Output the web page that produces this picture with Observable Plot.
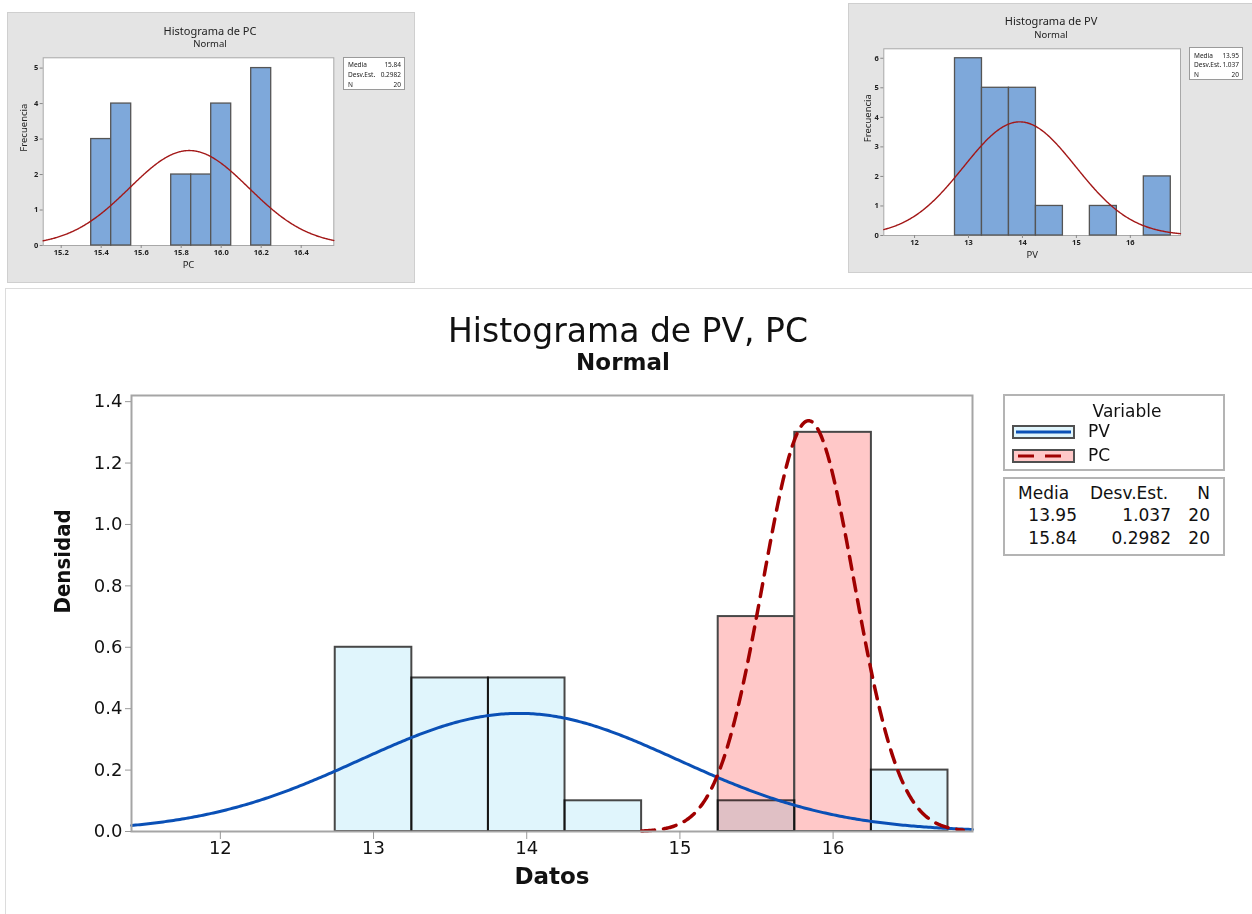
<!DOCTYPE html>
<html>
<head>
<meta charset="utf-8">
<script src="https://cdn.jsdelivr.net/npm/d3@7"></script>
<script src="https://cdn.jsdelivr.net/npm/@observablehq/plot@0.6"></script>
<style>
  html, body { margin:0; padding:0; background:#fff; }
  body { width:1252px; height:914px; position:relative; overflow:hidden; font-family:"DejaVu Sans", sans-serif; color:#111; }
  .abs { position:absolute; }
  .ctr { position:absolute; transform:translate(-50%,-50%); white-space:nowrap; }
  .panel { position:absolute; background:#e4e4e4; border:1px solid #cfcfcf; box-sizing:border-box; }
  .sbox { position:absolute; background:#fff; border:1px solid #9a9a9a; box-sizing:border-box; font-family:"Noto Sans", sans-serif; font-size:6.5px; color:#222; }
  .sbox .r { position:absolute; left:4px; right:3px; display:flex; justify-content:space-between; transform:translateY(-50%); }
  .lg { position:absolute; background:#fff; border:2px solid #b4b4b4; box-sizing:border-box; }
  .sw { position:absolute; width:63px; height:14px; box-sizing:border-box; border:2.5px solid #505050; }
  .sw i { position:absolute; left:2px; right:2px; top:50%; height:0; transform:translateY(-50%); }
  .t17 { font-size:17px; }
  svg { overflow:visible; }
</style>
</head>
<body>
<div id="root"></div>
<script>
// ---------- Data ----------
const variables = ["PV", "PC"];
const means = [13.95, 15.84];
const sds = [1.037, 0.2982];
const ns = [20, 20];

// PV histogram (bin width 0.5)
const pvBinCenters = [13, 13.5, 14, 14.5, 15, 15.5, 16, 16.5];
const pvCounts     = [6, 5, 5, 1, 0, 1, 0, 2];
const pvBinWidth = 0.5;

// PC histogram in combined chart (bin width 0.5)
const pcBinCenters = [15.5, 16];
const pcCounts     = [7, 13];
const pcBinWidth = 0.5;

// PC histogram in its own chart (bin width 0.1)
const pcFineCenters = [15.4, 15.5, 15.8, 15.9, 16.0, 16.2];
const pcFineCounts  = [3, 4, 2, 2, 4, 5];
const pcFineWidth = 0.1;

const mainXTicks = [12, 13, 14, 15, 16];
const mainYTicks = [0, 0.2, 0.4, 0.6, 0.8, 1.0, 1.2, 1.4];
const pcXTicks = [15.2, 15.4, 15.6, 15.8, 16.0, 16.2, 16.4];
const pcYTicks = [0, 1, 2, 3, 4, 5];
const pvXTicks = [12, 13, 14, 15, 16];
const pvYTicks = [0, 1, 2, 3, 4, 5, 6];

// ---------- Helpers ----------
const root = document.getElementById("root");
const pdf = (x, m, s) => Math.exp(-0.5 * ((x - m) / s) ** 2) / (s * Math.sqrt(2 * Math.PI));
function bins(centers, counts, w, scale) {
  return centers.map((c, i) => ({x1: c - w / 2, x2: c + w / 2, v: counts[i] * scale})).filter(d => d.v > 0);
}
function curve(a, b, m, s, k) {
  return d3.range(a, b + 1e-9, (b - a) / 400).map(x => ({x, y: k * pdf(x, m, s)}));
}
function add(html) { const d = document.createElement("div"); d.innerHTML = html; while (d.firstChild) root.appendChild(d.firstChild); }
function place(node, left, top) { node.style.position = "absolute"; node.style.left = left + "px"; node.style.top = top + "px"; root.appendChild(node); }

// ---------- Small panels ----------
function smallChart(o) {
  return Plot.plot({
    width: o.w, height: o.h,
    marginLeft: o.ml, marginRight: o.mr, marginTop: o.mt, marginBottom: o.mb,
    x: {domain: o.xdom},
    y: {domain: o.ydom},
    style: {fontFamily: "Noto Sans, sans-serif", fontSize: "7.5px", color: "#222", background: "transparent", overflow: "visible"},
    marks: [
      Plot.frame({fill: "#fff", stroke: "#a8a8a8", strokeWidth: 1}),
      Plot.rectY(o.bars, {x1: "x1", x2: "x2", y: "v", fill: "#7ea8da", stroke: "#555", strokeWidth: 1.3}),
      Plot.line(o.curve, {x: "x", y: "y", stroke: "#a31818", strokeWidth: 1.4}),
      Plot.axisX({ticks: o.xticks, tickFormat: o.xfmt, tickSize: 3, tickPadding: 1, stroke: "#888", label: null, fontWeight: "bold"}),
      Plot.axisY({ticks: o.yticks, tickFormat: "d", tickSize: 3, tickPadding: 2, stroke: "#888", label: null, fontWeight: "bold"}),
      Plot.text([o.xlabel], {text: d => d, frameAnchor: "bottom", dy: 22, fontSize: 9.5}),
      Plot.text([o.ylabel], {text: d => d, frameAnchor: "left", dx: o.ylabDx, rotate: -90, fontSize: 9.5})
    ]
  });
}

// Top-left: PC
add(`<div class="panel" style="left:7px;top:12px;width:408px;height:271px"></div>`);
place(smallChart({
  w: 408, h: 271, ml: 35.7, mr: 81.7, mt: 45.3, mb: 38,
  xdom: [15.11, 16.563], ydom: [0, 5.29],
  bars: bins(pcFineCenters, pcFineCounts, pcFineWidth, 1),
  curve: curve(15.11, 16.563, means[1], sds[1], ns[1] * pcFineWidth),
  xticks: pcXTicks, xfmt: ".1f", yticks: pcYTicks,
  xlabel: "PC", ylabel: "Frecuencia", ylabDx: -19
}), 7, 12);
add(`<div class="ctr" style="left:210px;top:30px;font-family:'Noto Sans';font-size:11px;color:#222">Histograma de PC</div>
<div class="ctr" style="left:210px;top:43px;font-family:'Noto Sans';font-size:9.5px;color:#222">Normal</div>
<div class="sbox" style="left:343px;top:57px;width:62px;height:33px">
  <div class="r" style="top:6px"><span>Media</span><span>${means[1]}</span></div>
  <div class="r" style="top:15.5px"><span>Desv.Est.</span><span>${sds[1]}</span></div>
  <div class="r" style="top:26px"><span>N</span><span>${ns[1]}</span></div>
</div>`);

// Top-right: PV
add(`<div class="panel" style="left:848px;top:3px;width:410px;height:270px"></div>`);
place(smallChart({
  w: 404, h: 270, ml: 35.3, mr: 72, mt: 45.3, mb: 38,
  xdom: [11.43, 16.93], ydom: [0, 6.32],
  bars: bins(pvBinCenters, pvCounts, pvBinWidth, 1),
  curve: curve(11.43, 16.93, means[0], sds[0], ns[0] * pvBinWidth),
  xticks: pvXTicks, xfmt: "d", yticks: pvYTicks,
  xlabel: "PV", ylabel: "Frecuencia", ylabDx: -16
}), 848, 3);
add(`<div class="ctr" style="left:1051px;top:20px;font-family:'Noto Sans';font-size:11px;color:#222">Histograma de PV</div>
<div class="ctr" style="left:1051px;top:34px;font-family:'Noto Sans';font-size:9.5px;color:#222">Normal</div>
<div class="sbox" style="left:1189px;top:47px;width:54px;height:33px">
  <div class="r" style="top:7px"><span>Media</span><span>${means[0]}</span></div>
  <div class="r" style="top:15.5px"><span>Desv.Est.</span><span>${sds[0]}</span></div>
  <div class="r" style="top:26px"><span>N</span><span>${ns[0]}</span></div>
</div>`);

// ---------- Main panel ----------
add(`<div class="abs" style="left:5px;top:288px;width:1260px;height:640px;border:1px solid #dcdcdc;box-sizing:border-box"></div>`);
add(`<div class="ctr" style="left:628px;top:330px;font-size:33px">Histograma de PV, PC</div>
<div class="ctr" style="left:623px;top:362px;font-size:23px;font-weight:bold">Normal</div>`);

const mainX = [11.42, 16.91];
const main = Plot.plot({
  width: 990, height: 534,
  marginLeft: 131, marginRight: 18, marginTop: 15, marginBottom: 83,
  x: {domain: mainX},
  y: {domain: [0, 1.42]},
  style: {fontFamily: "DejaVu Sans, sans-serif", fontSize: "18px", color: "#111", background: "transparent", overflow: "visible"},
  marks: [
    Plot.rectY(bins(pcBinCenters, pcCounts, pcBinWidth, 1 / (ns[1] * pcBinWidth)), {x1: "x1", x2: "x2", y: "v", fill: "#ffc8c8", stroke: "#474747", strokeWidth: 2}),
    Plot.rectY(bins(pvBinCenters, pvCounts, pvBinWidth, 1 / (ns[0] * pvBinWidth)), {x1: "x1", x2: "x2", y: "v", fill: "#e0f5fc", stroke: "#474747", strokeWidth: 2, mixBlendMode: "multiply"}),
    Plot.line(curve(mainX[0], mainX[1], means[0], sds[0], 1), {x: "x", y: "y", stroke: "#0a50b6", strokeWidth: 3}),
    Plot.line(curve(14.75, 16.85, means[1], sds[1], 1), {x: "x", y: "y", stroke: "#a00000", strokeWidth: 3.5, strokeDasharray: "13,9"}),
    Plot.frame({stroke: "#a5a5a5", strokeWidth: 2}),
    Plot.axisX({ticks: mainXTicks, tickFormat: "d", tickSize: 8, tickPadding: 2, stroke: "#999", label: null}),
    Plot.axisY({ticks: mainYTicks, tickFormat: ".1f", tickSize: 6, tickPadding: 3, stroke: "#999", label: null}),
    Plot.text(["Datos"], {text: d => d, frameAnchor: "bottom", dy: 52, fontSize: 23, fontWeight: "bold"}),
    Plot.text(["Densidad"], {text: d => d, frameAnchor: "left", dx: -69, rotate: -90, fontSize: 22, fontWeight: "bold", fontFamily: "DejaVu Sans Condensed, DejaVu Sans"})
  ]
});
place(main, 0, 380);

// ---------- Main legends ----------
const lineColors = ["#0a50b6", "#a00000"];
const fills = ["#e0f5fc", "#ffc8c8"];
const dashes = ["solid", "dashed"];
let lg = `<div class="lg" style="left:1003px;top:394px;width:222px;height:77px"></div>
<div class="ctr t17" style="left:1127px;top:411px">Variable</div>`;
variables.forEach((v, i) => {
  const cy = 432 + i * 24;
  const line = dashes[i] === "solid"
    ? `<i style="border-top:3px solid ${lineColors[i]}"></i>`
    : `<i style="height:3px;background:repeating-linear-gradient(90deg, ${lineColors[i]} 0 16px, transparent 16px 27px);left:4px"></i>`;
  lg += `<div class="sw" style="left:1012px;top:${cy - 7}px;background:${fills[i]}">${line}</div>
  <div class="abs t17" style="left:1088px;top:${cy - 11}px">${v}</div>`;
});
lg += `<div class="lg" style="left:1003px;top:477px;width:222px;height:79px"></div>
<div class="abs t17" style="left:1018px;top:483px">Media</div>
<div class="abs t17" style="left:1090px;top:483px">Desv.Est.</div>
<div class="abs t17" style="right:${1252 - 1210}px;top:483px">N</div>`;
variables.forEach((v, i) => {
  const top = 505 + i * 23;
  lg += `<div class="abs t17" style="right:${1252 - 1077}px;top:${top}px">${means[i]}</div>
  <div class="abs t17" style="right:${1252 - 1171}px;top:${top}px">${sds[i]}</div>
  <div class="abs t17" style="right:${1252 - 1210}px;top:${top}px">${ns[i]}</div>`;
});
add(lg);
</script>
</body>
</html>
